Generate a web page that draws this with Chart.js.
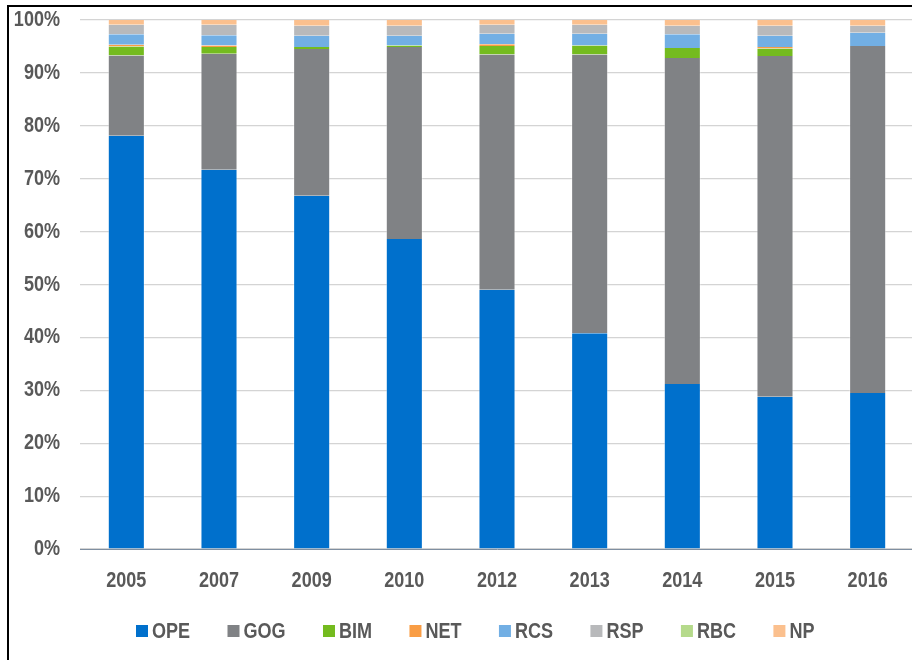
<!DOCTYPE html>
<html>
<head>
<meta charset="utf-8">
<script src="https://cdn.jsdelivr.net/npm/chart.js@4"></script>
<style>
  html, body { margin: 0; padding: 0; background: #fff; overflow: hidden; }
  #wrap { position: relative; width: 916px; height: 660px; }
  #frame { position: absolute; left: 7px; top: 5px; width: 960px; height: 700px;
           border-left: 2px solid #000; border-top: 2px solid #000; box-sizing: border-box; pointer-events: none; }
  canvas { position: absolute; left: 0; top: 0; }
</style>
</head>
<body>
<div id="wrap">
  <canvas id="chart" width="916" height="660"></canvas>
  <div id="frame"></div>
</div>
<script>
// Years on the category axis
const years = ['2005', '2007', '2009', '2010', '2012', '2013', '2014', '2015', '2016'];

// Share of each component per year (%)
const OPE = [78.1, 71.7, 66.8, 58.6, 49.0, 40.8, 31.2, 28.8, 29.5];
const GOG = [15.2, 21.9, 27.7, 36.3, 44.5, 52.7, 61.6, 64.4, 65.6];
const BIM = [1.7, 1.3, 0.4, 0.3, 1.6, 1.7, 1.9, 1.4, 0.0];
const NET = [0.3, 0.3, 0.0, 0.0, 0.3, 0.0, 0.0, 0.3, 0.0];
const RCS = [2.0, 1.9, 2.1, 1.8, 2.0, 2.2, 2.6, 2.1, 2.5];
const RSP = [1.8, 2.0, 1.9, 1.9, 1.7, 1.7, 1.6, 1.9, 1.3];
const RBC = [0.0, 0.0, 0.0, 0.0, 0.0, 0.0, 0.0, 0.0, 0.0];
const NP  = [0.9, 0.9, 1.1, 1.1, 0.9, 0.9, 1.1, 1.1, 1.1];

// Value-axis ticks
const yTicks = [0, 10, 20, 30, 40, 50, 60, 70, 80, 90, 100];

const seriesNames = ['OPE', 'GOG', 'BIM', 'NET', 'RCS', 'RSP', 'RBC', 'NP'];
const seriesData = [OPE, GOG, BIM, NET, RCS, RSP, RBC, NP];
const seriesColors = ['#0070CC', '#808285', '#74BB1F', '#F99D45', '#72AFE4', '#B8B9BB', '#B5DA8B', '#FBC08E'];

const FONT = "'Liberation Sans', Arial, sans-serif";
const FONT_SIZE = 22;
const SQUEEZE = 0.82;          // horizontal squeeze for a narrow-face look
const TEXT_COLOR = '#595959';

const datasets = seriesNames.map((name, i) => ({
  label: name,
  data: seriesData[i],
  backgroundColor: seriesColors[i],
  borderColor: 'rgba(255,255,255,0.35)',
  borderWidth: { left: 1, right: 1, top: 0, bottom: 0 },
  borderSkipped: false,
  categoryPercentage: 1.0,
  barPercentage: 0.4
}));

// Tick labels are rendered condensed: same positions as the scale computes,
// only the glyphs are narrowed horizontally.
const narrowTicks = {
  id: 'narrowTicks',
  beforeDraw(chart) {
    Object.values(chart.scales).forEach(scale => {
      if (scale._narrowed) return;
      scale._narrowed = true;
      scale.drawLabels = function (area) {
        const ctx = this.ctx;
        const items = this.getLabelItems(area);
        ctx.save();
        ctx.scale(SQUEEZE, 1);
        for (const it of items) {
          const o = it.options;
          ctx.save();
          ctx.translate(o.translation[0] / SQUEEZE, o.translation[1]);
          ctx.font = it.font.string;
          ctx.fillStyle = o.color;
          ctx.textAlign = o.textAlign;
          ctx.textBaseline = o.textBaseline;
          ctx.fillText(it.label, 0, it.textOffset);
          ctx.restore();
        }
        ctx.restore();
      };
    });
  }
};

// Legend row drawn under the axis: small square swatch followed by the label
const legendRow = {
  id: 'legendRow',
  afterDraw(chart) {
    const ctx = chart.ctx;
    ctx.save();
    ctx.font = 'bold ' + FONT_SIZE + 'px ' + FONT;
    ctx.textBaseline = 'middle';
    ctx.textAlign = 'left';
    let x = 136;
    const yMid = 631;
    chart.data.datasets.forEach(ds => {
      ctx.fillStyle = ds.backgroundColor;
      ctx.fillRect(x, yMid - 6, 12, 12);
      x += 12 + 4;
      ctx.fillStyle = TEXT_COLOR;
      ctx.save();
      ctx.translate(x, yMid + 1);
      ctx.scale(SQUEEZE, 1);
      ctx.fillText(ds.label, 0, 0);
      ctx.restore();
      x += ctx.measureText(ds.label).width * SQUEEZE + 37.4;
    });
    ctx.restore();
  }
};

new Chart(document.getElementById('chart'), {
  type: 'bar',
  data: { labels: years, datasets },
  options: {
    responsive: false,
    animation: false,
    layout: { padding: { left: 0, right: 2, top: 20, bottom: 0 } },
    plugins: { legend: { display: false }, tooltip: { enabled: false } },
    scales: {
      x: {
        stacked: true,
        grid: { display: false, drawTicks: false },
        border: { display: true, color: '#7F8FA1', width: 1 },
        ticks: { color: TEXT_COLOR, font: { family: FONT, size: FONT_SIZE, weight: 'bold' }, padding: 19, maxRotation: 0, autoSkip: false },
        afterFit(scale) { scale.height = 111; }
      },
      y: {
        stacked: true,
        min: 0,
        max: 100,
        grid: { color: '#D4D4D4', lineWidth: 1.2, drawTicks: false },
        border: { display: false },
        afterBuildTicks(scale) { scale.ticks = yTicks.map(v => ({ value: v })); },
        ticks: {
          color: TEXT_COLOR,
          font: { family: FONT, size: FONT_SIZE, weight: 'bold' },
          padding: 20,
          callback: v => v + '%'
        },
        afterFit(scale) {
          scale.width = 80;
          scale.paddingTop = 0;
          scale.paddingBottom = 0;
        }
      }
    }
  },
  plugins: [narrowTicks, legendRow]
});
</script>
</body>
</html>
